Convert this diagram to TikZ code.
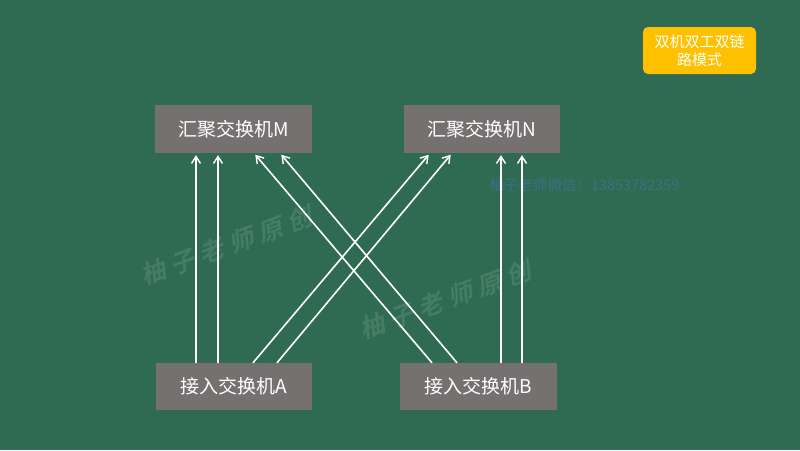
\documentclass[tikz,border=0pt]{standalone}
\usepackage{fontspec}
\setmainfont{Noto Sans CJK SC}
\newfontfamily\wmfont[FakeSlant=0.25,LetterSpace=25]{Noto Sans CJK SC Bold}
\usetikzlibrary{arrows.meta,calc}
\definecolor{bg}{HTML}{2E6B52}
\definecolor{boxgray}{HTML}{767171}
\definecolor{gold}{HTML}{FFC000}
\definecolor{wm}{HTML}{457C64}
\definecolor{wmblue}{HTML}{3E6F84}
\tikzset{
  sw/.style={fill=boxgray, text=white, minimum height=48pt, inner sep=0pt, font=\fontsize{19}{21}\selectfont},
  arr/.style={draw=white, line width=1.6pt, -{Straight Barb[length=7pt,width=9pt,line width=1.4pt]}, shorten >=2pt},
  water/.style={text=wm, font=\wmfont\fontsize{25}{27}\selectfont, rotate=20}
}
\begin{document}
\begin{tikzpicture}[x=1pt,y=-1pt]
\fill[bg] (0,0) rectangle (800,450);
\useasboundingbox (0,0) rectangle (800,450);
% watermarks
\node[water] (w1) at (226,246) {柚子老师原创};
\node[water] (w2) at (445,300) {柚子老师原创};
\node[text=wmblue, font=\fontsize{14.5}{16}\selectfont, anchor=west] (w3) at (486,185) {柚子老师微信：13853782359};
% boxes
\node[sw, minimum width=157pt] (M) at (233.5,129) {汇聚交换机M};
\node[sw, minimum width=156pt] (N) at (482,129) {汇聚交换机N};
\node[sw, minimum width=156pt, minimum height=47pt] (A) at (234,386.5) {接入交换机A};
\node[sw, minimum width=157pt, minimum height=47pt] (B) at (478.5,386.5) {接入交换机B};
\node[fill=gold, rounded corners=5pt, minimum width=113pt, minimum height=47pt, text=white, align=center, font=\fontsize{15}{18}\selectfont] (Y) at (699.5,50.5) {双机双工双链\\路模式};
% verticals
\draw[arr] (A.north -| 196,0) -- (M.south -| 196,0);
\draw[arr] (A.north -| 218,0) -- (M.south -| 218,0);
\draw[arr] (B.north -| 501,0) -- (N.south -| 501,0);
\draw[arr] (B.north -| 522,0) -- (N.south -| 522,0);
% crosses
\draw[arr] (A.north -| 253,0) -- (N.south -| 430,0);
\draw[arr] (A.north -| 277,0) -- (N.south -| 452,0);
\draw[arr] (B.north -| 432,0) -- (M.south -| 254,0);
\draw[arr] (B.north -| 457,0) -- (M.south -| 280,0);
\end{tikzpicture}
\end{document}
